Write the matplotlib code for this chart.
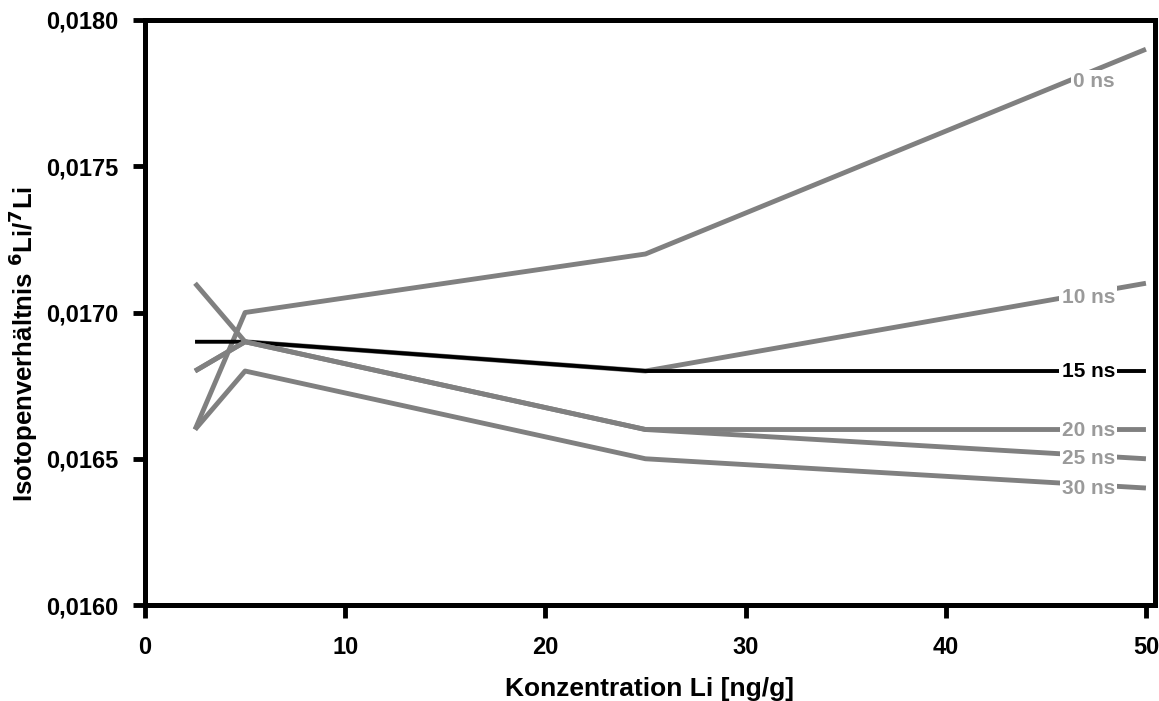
import numpy as np
import matplotlib.pyplot as plt

# concentration Li [ng/g]
konz = [2.5, 5, 25, 50]

# isotope ratio 6Li/7Li per dead time
ratio_0 = [0.0166, 0.0170, 0.0172, 0.0179]
ratio_10 = [0.0168, 0.0169, 0.0168, 0.0171]
ratio_15 = [0.0169, 0.0169, 0.0168, 0.0168]
ratio_20 = [0.0171, 0.0169, 0.0166, 0.0166]
ratio_25 = [0.0168, 0.0169, 0.0166, 0.0165]
ratio_30 = [0.0166, 0.0168, 0.0165, 0.0164]

series = [('0 ns', ratio_0), ('10 ns', ratio_10), ('15 ns', ratio_15),
          ('20 ns', ratio_20), ('25 ns', ratio_25), ('30 ns', ratio_30)]

plt.rcParams['font.family'] = ['Liberation Sans', 'DejaVu Sans']
plt.rcParams['font.weight'] = 'bold'

fig = plt.figure(figsize=(11.59, 7.01), dpi=100)
ax = fig.add_axes([0.1251, 0.1369, 0.9965 - 0.1251, 0.9715 - 0.1369])

label_x = 48.45
label_dy = {'0 ns': -6, '10 ns': -3, '15 ns': 0, '20 ns': -1, '25 ns': -2, '30 ns': -3}
for name, vals in series:
    col = 'black' if name == '15 ns' else '#808080'
    lw = 2.8 if name == '15 ns' else 3.5
    ax.plot(konz, vals, color=col, lw=lw, solid_capstyle='butt', zorder=2)
    y = np.interp(label_x - 1.4, konz, vals)
    tcol = 'black' if name == '15 ns' else '#9a9a9a'
    ax.annotate(name, (label_x, y), xytext=(0, label_dy[name]), textcoords='offset points',
                ha='right', va='center', fontsize=15, fontweight='bold', color=tcol,
                bbox=dict(facecolor='white', edgecolor='none', pad=1.5), zorder=3)

ax.set_xlim(0, 50.45)
ax.set_ylim(0.0160, 0.0180)
ax.set_xticks([0, 10, 20, 30, 40, 50])
ax.set_yticks([0.0160, 0.0165, 0.0170, 0.0175, 0.0180])
ax.set_yticklabels([f'{v:.4f}'.replace('.', ',') for v in ax.get_yticks()])
ax.tick_params(direction='out', length=9, width=3.5, labelsize=17)
ax.tick_params(axis='y', pad=10)
ax.tick_params(axis='x', pad=13)
for s in ax.spines.values():
    s.set_linewidth(3.6)

ax.set_xlabel('Konzentration Li [ng/g]', fontsize=19, fontweight='bold')
ax.set_ylabel('Isotopenverhältnis $^{\\mathbf{6}}$Li/$^{\\mathbf{7}}$Li', fontsize=18.5,
              fontweight='bold')
ax.xaxis.set_label_coords(0.5, -0.123)
ax.yaxis.set_label_coords(-0.104, 0.446)

fig.savefig('out.png', dpi=100)
